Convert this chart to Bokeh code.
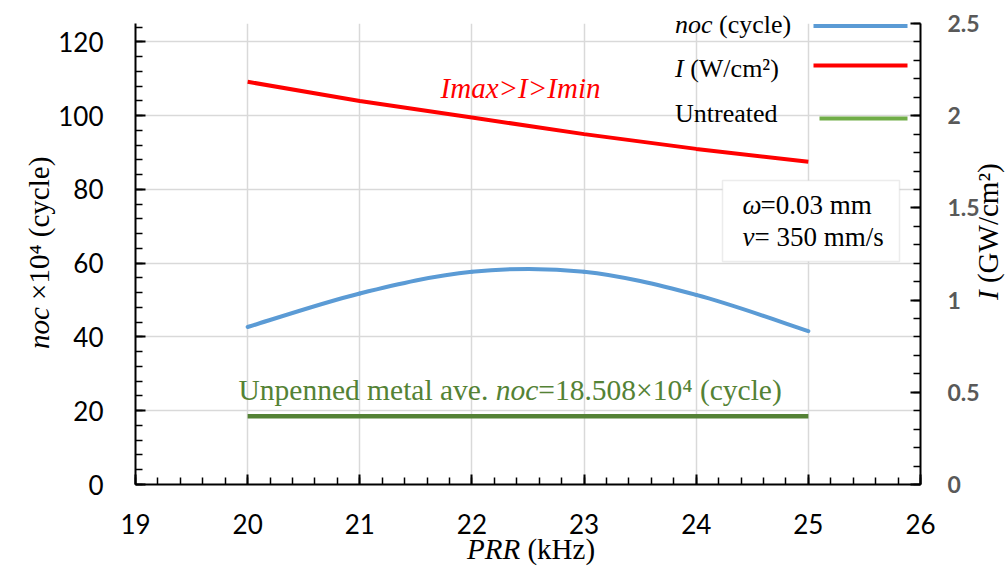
import math
from bokeh.plotting import figure
from bokeh.layouts import column
from bokeh.models import (Range1d, LinearAxis, FixedTicker, Label, BoxAnnotation, Div,
                          InlineStyleSheet)
from bokeh.embed import file_html
from bokeh.resources import INLINE

# ---------------- data ----------------
prr = [20, 21, 22, 23, 24, 25]                       # PRR (kHz)
noc = [42.7, 51.8, 57.7, 57.7, 51.4, 41.6]           # noc x10^4 (cycle)
intensity = [2.184, 2.08, 1.99, 1.90, 1.82, 1.75]    # I (GW/cm2)
untreated_prr = [20, 25]
untreated_noc = [18.508, 18.508]

x_ticks = [19, 20, 21, 22, 23, 24, 25, 26]
left_ticks = [0, 20, 40, 60, 80, 100, 120]
right_ticks = [0, 0.5, 1, 1.5, 2, 2.5]
right_tick_labels = ["0", "0.5", "1", "1.5", "2", "2.5"]

# ---------------- layout constants ----------------
W, H = 1005, 568
FL, FR, FT, FB = 135, 920, 23, 484      # frame edges in px
XMIN, XMAX = 19, 26
YMIN, YMAX = 0, 125
Y2MAX = 2.5

SERIF = "Liberation Serif"
SANS = "Lato"
BLUE, RED, DGREEN, LGREEN = "#5B9BD5", "#FF0000", "#548235", "#70AD47"


def px2x(px):
    return XMIN + (px - FL) * (XMAX - XMIN) / (FR - FL)


def px2y(py):
    return YMIN + (FB - py) * (YMAX - YMIN) / (FB - FT)


REG = {' ': 250, '(': 333, ')': 333, '.': 250, '/': 278, '=': 564, '>': 564, '×': 564,
       '²': 300, '⁴': 300, 'U': 722, 'G': 722, 'W': 944, 'H': 722, 'I': 333, 'P': 556,
       'R': 667, 'a': 444, 'c': 444, 'd': 500, 'e': 444, 'k': 500, 'l': 278, 'm': 778,
       'n': 500, 'p': 500, 'r': 333, 's': 389, 't': 278, 'v': 500, 'y': 500, 'z': 444,
       'i': 278, 'x': 500, 'o': 500}
ITA = {'n': 500, 'o': 500, 'c': 444, 'I': 333, 'P': 611, 'R': 611, 'v': 444, 'ω': 667,
       'm': 722, 'a': 500, 'x': 444, 'i': 278, '>': 675}


def twidth(s, italic, size):
    tbl = ITA if italic else REG
    return sum(tbl.get(ch, REG.get(ch, 500)) for ch in s) / 1000.0 * size


def rich(p, x_px, y_base_px, parts, size, color):
    """Mixed italic/upright text on one baseline, placed inside the frame."""
    adv = 0.0
    y_px = y_base_px - 0.35 * size      # compensate Bokeh's alphabetic baseline placement
    for txt, italic in parts:
        lead = len(txt) - len(txt.lstrip(' '))
        trail = len(txt) - len(txt.rstrip(' '))
        core = txt.strip(' ')
        adv += lead * 0.25 * size
        p.add_layout(Label(x=px2x(x_px + adv), y=px2y(y_px), text=core, text_font=SERIF,
                           text_font_style="italic" if italic else "normal",
                           text_font_size=f"{size}px", text_color=color,
                           text_align="left", text_baseline="alphabetic"))
        adv += twidth(core, italic, size) + trail * 0.25 * size


p = figure(width=W, height=H, output_backend="svg", toolbar_location=None,
           x_range=Range1d(XMIN, XMAX), y_range=Range1d(YMIN, YMAX),
           min_border_left=FL, min_border_right=W - FR, min_border_top=FT,
           min_border_bottom=H - FB)
p.outline_line_color = None
p.background_fill_color = "white"
p.border_fill_color = "white"
p.extra_y_ranges = {"right": Range1d(0, Y2MAX)}

# grid
p.xgrid.ticker = FixedTicker(ticks=x_ticks)
p.ygrid.ticker = FixedTicker(ticks=left_ticks)
for g in (p.xgrid, p.ygrid):
    g.grid_line_color = "#D9D9D9"
    g.grid_line_width = 1.5


def style_axis(ax, font_size, color="black", bold=False, standoff=25):
    ax.axis_line_color = "black"
    ax.axis_line_width = 2
    ax.major_tick_line_color = "black"
    ax.major_tick_line_width = 2
    ax.minor_tick_line_color = "black"
    ax.minor_tick_line_width = 1.5
    ax.major_tick_in = 10
    ax.major_tick_out = 0
    ax.minor_tick_in = 7
    ax.minor_tick_out = 0
    ax.major_label_text_font = SANS
    ax.major_label_text_font_size = font_size
    ax.major_label_text_color = color
    ax.major_label_text_font_style = "bold" if bold else "normal"
    ax.major_label_standoff = standoff


xa = p.xaxis[0]
xa.ticker = FixedTicker(ticks=x_ticks, minor_ticks=[19 + i * 0.2 for i in range(36)])
style_axis(xa, "26px", standoff=29)

ya = p.yaxis[0]
ya.ticker = FixedTicker(ticks=left_ticks, minor_ticks=[i * 4 for i in range(32)])
style_axis(ya, "26px", standoff=32)

ra = LinearAxis(y_range_name="right",
                ticker=FixedTicker(ticks=right_ticks, minor_ticks=[i * 0.1 for i in range(26)]),
                major_label_overrides={t: s for t, s in zip(right_ticks, right_tick_labels)})
style_axis(ra, "23px", color="#595959", bold=True, standoff=27)
p.add_layout(ra, "right")

# ---------------- series ----------------
# smoothed noc curve (Catmull-Rom Bezier through the data points, like Excel's smoothed line)
n = len(prr)
x0, y0, x1, y1, cx0, cy0, cx1, cy1 = [], [], [], [], [], [], [], []
for i in range(n - 1):
    im1 = max(i - 1, 0)
    ip2 = min(i + 2, n - 1)
    x0.append(prr[i]); y0.append(noc[i])
    x1.append(prr[i + 1]); y1.append(noc[i + 1])
    cx0.append(prr[i] + (prr[i + 1] - prr[im1]) / 6.0)
    cy0.append(noc[i] + (noc[i + 1] - noc[im1]) / 6.0)
    cx1.append(prr[i + 1] - (prr[ip2] - prr[i]) / 6.0)
    cy1.append(noc[i + 1] - (noc[ip2] - noc[i]) / 6.0)
p.bezier(x0=x0, y0=y0, x1=x1, y1=y1, cx0=cx0, cy0=cy0, cx1=cx1, cy1=cy1,
         line_color=BLUE, line_width=4, line_cap="round")

p.line(prr, intensity, y_range_name="right", line_color=RED, line_width=4)
p.line(untreated_prr, untreated_noc, line_color=DGREEN, line_width=4.5)

# ---------------- legend swatches ----------------
for (xa_px, xb_px, y_px, col) in [(813, 907, 25.5, BLUE), (813, 907, 65, RED), (819, 907, 118, LGREEN)]:
    p.segment(x0=[px2x(xa_px)], y0=[px2y(y_px)], x1=[px2x(xb_px)], y1=[px2y(y_px)],
              line_color=col, line_width=4)

# ---------------- annotations ----------------
p.add_layout(Label(x=px2x(520), y=px2y(87), text="Imax>I>Imin", text_font=SERIF,
                   text_font_style="italic", text_font_size="29px", text_color=RED,
                   text_align="center", text_baseline="middle"))

rich(p, 238, 400, [("Unpenned metal ave. ", False), ("noc", True), ("=18.508×10⁴ (cycle)", False)],
     29.5, DGREEN)

p.add_layout(BoxAnnotation(left=px2x(722), right=px2x(899), top=px2y(180), bottom=px2y(261),
                           fill_color="white", fill_alpha=1.0, line_color="#BFBFBF",
                           line_width=1.5))
rich(p, 742, 214, [("ω", True), ("=0.03 mm", False)], 27, "black")
rich(p, 742, 246, [("v", True), ("= 350 mm/s", False)], 27, "black")

# ---------------- axis titles + legend texts (HTML overlay, mixed italic) ----------------
css = InlineStyleSheet(css="""
.wrap { position: relative; width: 1005px; height: 568px; overflow: hidden; }
.t { position: absolute; white-space: nowrap; margin: 0; padding: 0; color: black;
     font-family: "Liberation Serif", serif !important; }
.t i { font-family: "Liberation Serif", serif !important; font-style: italic; }
.t29 { font-size: 29px; line-height: 29px; }
.t26 { font-size: 26px; line-height: 26px; }
.rot { transform: rotate(-90deg); transform-origin: 0 0; }
""")

overlay_html = (
    "<div class='wrap'>"
    "<span class='t t29' style='left:467px;top:535px;'><i>PRR</i> (kHz)</span>"
    "<span class='t t29 rot' style='left:25px;top:349px;'><i>noc</i> ×10⁴ (cycle)</span>"
    "<span class='t t29 rot' style='left:974px;top:300px;'><i>I</i> (GW/cm²)</span>"
    "<span class='t t26' style='left:675px;top:12px;'><i>noc</i> (cycle)</span>"
    "<span class='t t26' style='left:675px;top:56px;'><i>I</i> (W/cm²)</span>"
    "<span class='t t26' style='left:675px;top:101px;'>Untreated</span>"
    "</div>"
)
overlay = Div(text=overlay_html, width=W, height=H, stylesheets=[css],
              styles={"position": "absolute", "left": "0px", "top": "0px",
                      "pointer-events": "none", "margin": "0", "padding": "0",
                      "font-family": "Liberation Serif"})

layout = column(p, overlay, spacing=0)
open("out.html", "w").write(file_html(layout, INLINE))
